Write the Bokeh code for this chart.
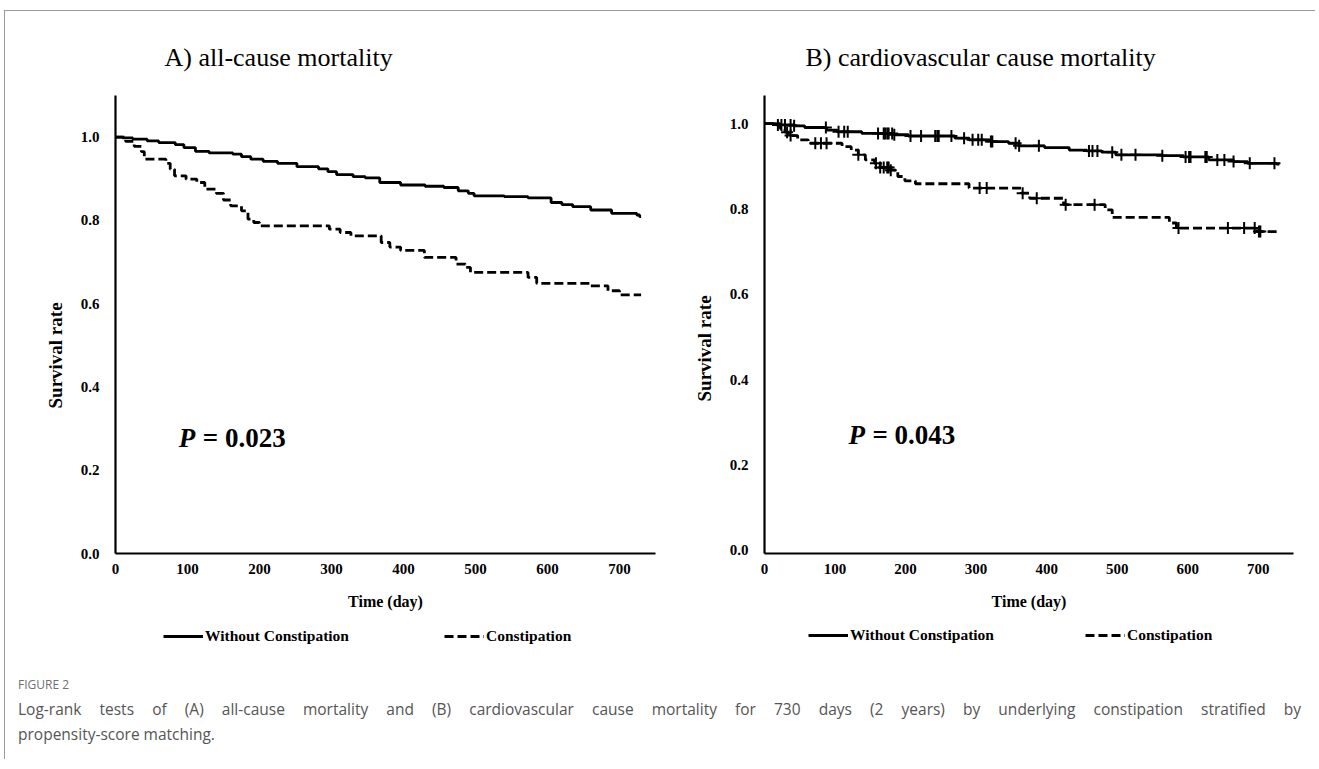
import numpy as np
from bokeh.plotting import figure
from bokeh.models import Range1d, FixedTicker, Label, Legend, LegendItem, Div, PrintfTickFormatter, Title
from bokeh.layouts import row, column
from bokeh.embed import file_html
from bokeh.resources import INLINE

SERIF = "Liberation Serif"

# ---------------- data ----------------
x_ticks = [0, 100, 200, 300, 400, 500, 600, 700]
y_ticks = [0.0, 0.2, 0.4, 0.6, 0.8, 1.0]

# A) all-cause mortality
a_without_t = [0, 10, 24, 44, 60, 83, 95, 111, 130, 163, 175, 188, 205, 225, 252, 282, 295, 307, 330,
               347, 367, 396, 430, 456, 476, 490, 498, 540, 573, 605, 620, 635, 660, 689, 724, 728, 730]
a_without_s = [1.0, 0.998, 0.995, 0.991, 0.987, 0.982, 0.975, 0.966, 0.962, 0.959, 0.953, 0.947, 0.942,
               0.937, 0.929, 0.924, 0.917, 0.910, 0.905, 0.902, 0.891, 0.885, 0.882, 0.879, 0.871, 0.865,
               0.859, 0.857, 0.854, 0.843, 0.838, 0.833, 0.825, 0.817, 0.813, 0.809, 0.809]
a_const_t = [0, 14, 26, 36, 40, 70, 76, 82, 98, 113, 124, 140, 150, 160, 175, 184, 192, 200, 297, 312,
             327, 369, 381, 396, 429, 473, 486, 493, 573, 585, 660, 684, 700, 730]
a_const_s = [1.0, 0.99, 0.978, 0.965, 0.947, 0.937, 0.923, 0.907, 0.899, 0.891, 0.875, 0.865, 0.849,
             0.835, 0.823, 0.803, 0.795, 0.787, 0.779, 0.771, 0.763, 0.747, 0.736, 0.728, 0.711, 0.695,
             0.687, 0.675, 0.663, 0.649, 0.643, 0.631, 0.621, 0.621]

# B) cardiovascular cause mortality
b_without_t = [0, 17, 42, 57, 88, 103, 138, 184, 204, 270, 290, 321, 346, 361, 397, 432, 457, 478, 498,
               564, 594, 630, 665, 685, 726, 730]
b_without_s = [1.0, 0.997, 0.995, 0.991, 0.985, 0.981, 0.977, 0.974, 0.971, 0.966, 0.962, 0.958, 0.954,
               0.948, 0.944, 0.938, 0.936, 0.933, 0.927, 0.925, 0.922, 0.915, 0.911, 0.907, 0.905, 0.905]
b_without_cens = [19, 24, 29, 37, 42, 87, 105, 113, 118, 161, 169, 171, 174, 176, 181, 184, 207, 222, 242,
                  245, 247, 265, 283, 295, 303, 308, 321, 323, 356, 361, 389, 460, 465, 472, 493, 506, 526,
                  564, 597, 602, 604, 625, 627, 642, 652, 665, 688, 723]
b_const_t = [0, 22, 29, 34, 47, 62, 110, 123, 133, 143, 156, 164, 179, 189, 199, 214, 290, 364, 376, 424,
             483, 493, 574, 584, 698, 730]
b_const_s = [1.0, 0.989, 0.980, 0.972, 0.962, 0.954, 0.946, 0.938, 0.927, 0.915, 0.907, 0.897, 0.891,
             0.876, 0.866, 0.859, 0.849, 0.837, 0.825, 0.810, 0.798, 0.780, 0.767, 0.755, 0.747, 0.747]
b_const_cens = [32, 37, 72, 80, 88, 133, 158, 164, 169, 174, 176, 179, 305, 315, 366, 386, 427, 468, 587,
                657, 680, 695, 701, 703]

legend_labels = ["Without Constipation", "Constipation"]

LINE_W = 2.8
DASH = "9 4"


def surv_at(ts, ss, times):
    ts = np.asarray(ts, float)
    ss = np.asarray(ss, float)
    idx = np.searchsorted(ts, np.asarray(times, float), side="right") - 1
    return ss[idx]


def panel(width, height, yrange, borders, title, title_offset, p_text, p_xy, ylab_offset,
          solid, dashed, cens_solid=None, cens_dashed=None):
    p = figure(width=width, height=height, output_backend="svg", toolbar_location=None,
               x_range=Range1d(0, 750), y_range=Range1d(*yrange),
               min_border_left=borders[0], min_border_right=borders[1],
               min_border_top=borders[2], min_border_bottom=borders[3])
    p.outline_line_color = None
    p.grid.visible = False
    p.background_fill_color = "white"
    p.border_fill_color = "white"

    p.title.text = title
    p.title.align = "left"
    p.title.offset = title_offset
    p.title.text_font = SERIF
    p.title.text_font_style = "normal"
    p.title.text_font_size = "26px"
    p.title.text_color = "black"
    p.title.standoff = 48

    for ax in (p.xaxis[0], p.yaxis[0]):
        ax.axis_line_width = 2.2
        ax.axis_line_color = "black"
        ax.major_tick_line_color = None
        ax.minor_tick_line_color = None
        ax.major_tick_out = 0
        ax.major_tick_in = 0
        ax.minor_tick_out = 0
        ax.major_label_text_font = SERIF
        ax.major_label_text_font_style = "bold"
        ax.major_label_text_font_size = "15px"
        ax.major_label_text_color = "black"
    p.xaxis.ticker = FixedTicker(ticks=x_ticks)
    p.yaxis.ticker = FixedTicker(ticks=y_ticks)
    p.yaxis.formatter = PrintfTickFormatter(format="%.1f")
    p.yaxis.major_label_standoff = 16
    p.xaxis.major_label_standoff = 10
    p.xaxis.axis_label = "Time (day)"
    p.xaxis.axis_label_text_font = SERIF
    p.xaxis.axis_label_text_font_style = "bold"
    p.xaxis.axis_label_text_font_size = "16px"
    p.xaxis.axis_label_text_color = "black"
    p.xaxis.axis_label_standoff = 16

    p.add_layout(Title(text="Survival rate", align="left", offset=ylab_offset,
                       text_font=SERIF, text_font_style="bold", text_font_size="19px",
                       text_color="black", standoff=24), "left")

    p.step(solid[0], solid[1], mode="after", line_color="black", line_width=LINE_W)
    p.step(dashed[0], dashed[1], mode="after", line_color="black", line_width=LINE_W,
           line_dash=DASH)
    if cens_solid is not None:
        p.scatter(cens_solid, surv_at(solid[0], solid[1], cens_solid), marker="cross",
                  size=12, line_color="black", line_width=2)
    if cens_dashed is not None:
        p.scatter(cens_dashed, surv_at(dashed[0], dashed[1], cens_dashed), marker="cross",
                  size=12, line_color="black", line_width=2)

    p.add_layout(Label(x=p_xy[0], y=p_xy[1], text="P", text_font=SERIF,
                       text_font_style="bold italic", text_font_size="27px",
                       text_align="left", text_baseline="middle", text_color="black"))
    p.add_layout(Label(x=p_xy[0], y=p_xy[1], x_offset=24, text=p_text, text_font=SERIF,
                       text_font_style="bold", text_font_size="27px",
                       text_align="left", text_baseline="middle", text_color="black"))
    return p


def legend_fig(width, height, leg_x, leg_y, spacing, solid, dashed):
    # the series are drawn outside the visible range; only the legend shows
    f = figure(width=width, height=height, output_backend="svg", toolbar_location=None,
               x_axis_type=None, y_axis_type=None, min_border=0,
               min_border_left=0, min_border_right=0, min_border_top=0, min_border_bottom=0,
               x_range=Range1d(0, 750), y_range=Range1d(5, 6))
    f.outline_line_color = None
    f.grid.visible = False
    f.border_fill_color = "white"
    f.background_fill_color = "white"
    r1 = f.step(solid[0], solid[1], mode="after", line_color="black", line_width=LINE_W)
    r2 = f.step(dashed[0], dashed[1], mode="after", line_color="black", line_width=LINE_W,
                line_dash=DASH)
    lg = Legend(items=[LegendItem(label=legend_labels[0], renderers=[r1]),
                       LegendItem(label=legend_labels[1], renderers=[r2])],
                location=(leg_x, leg_y), orientation="horizontal", padding=0, margin=0,
                spacing=spacing, border_line_color=None, background_fill_alpha=0,
                glyph_width=40, glyph_height=16, label_height=16, label_standoff=2,
                label_text_font=SERIF, label_text_font_style="bold",
                label_text_font_size="15.5px", label_text_color="black")
    f.add_layout(lg)
    return f


pA = panel(652, 608, (0, 1.1), (110, 2, 84, 66), "A) all-cause mortality", 49,
           "= 0.023", (88, 0.277), 145,
           (a_without_t, a_without_s), (a_const_t, a_const_s))
pB = panel(650, 608, (-0.008, 1.066), (107, 14, 84, 66), "B) cardiovascular cause mortality", 41,
           "= 0.043", (119, 0.27), 152,
           (b_without_t, b_without_s), (b_const_t, b_const_s),
           cens_solid=b_without_cens, cens_dashed=b_const_cens)

lA = legend_fig(652, 38, 158, 12, 95, (a_without_t, a_without_s), (a_const_t, a_const_s))
lB = legend_fig(650, 38, 151, 13, 91, (b_without_t, b_without_s), (b_const_t, b_const_s))

caption = Div(text=(
    '<div style="font-family:\'Open Sans\';color:#555;width:1283px;margin-left:8px;">'
    '<div style="font-size:12px;color:#707070;line-height:16px;margin-top:15px;">FIGURE 2</div>'
    '<div style="font-size:15.5px;line-height:25px;margin-top:4px;text-align:justify;text-align-last:justify;">'
    'Log-rank tests of (A) all-cause mortality and (B) cardiovascular cause mortality for 730 days (2 years) '
    'by underlying constipation stratified by</div>'
    '<div style="font-size:15.5px;line-height:25px;">propensity-score matching.</div></div>'),
    width=1300, height=92)

layout = column(row(pA, pB), row(lA, lB), caption,
                styles={"border-top": "1px solid #9a9a9a", "border-left": "1px solid #9a9a9a",
                        "margin-left": "4px", "margin-top": "10px"})

open("out.html", "w").write(file_html(layout, INLINE))
